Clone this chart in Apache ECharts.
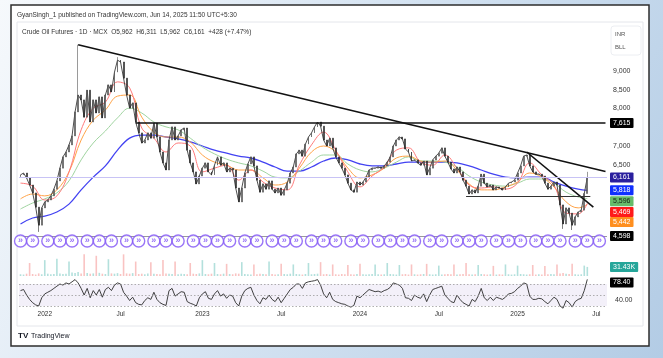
<!DOCTYPE html>
<html><head><meta charset="utf-8">
<script src="https://cdn.jsdelivr.net/npm/echarts@6/dist/echarts.min.js"></script>
<style>html,body{margin:0;padding:0;width:663px;height:358px;overflow:hidden;}#c{width:663px;height:358px;}</style>
</head><body><div id="c"></div>
<script>
// ---------- DATA ----------
const startDate = '2021-11-12';   // first weekly candle (Friday)
const weekCount = 194;            // weekly slots shown incl. empty space on the right
const firstOpen = 6180;
// weekly closes
const closes = [
6230,6280,6150,5960,5750,5370,4890,5350,5510,5560,
5670,5850,6070,6410,6710,6840,7030,7270,7910,8360,
8230,7770,8490,7640,8230,7880,8310,7750,8360,8630,
8440,8970,9290,9240,8810,8360,8010,8150,7640,7350,
7080,7160,7350,7210,7610,7240,6840,6550,6360,7160,
7510,7160,7270,7430,7480,6890,6550,6310,5990,6200,
6410,6550,6310,6230,6490,6710,6490,6550,6310,6410,
6360,5880,5510,5880,6280,6520,6710,6470,6090,5770,
5990,5850,6070,5850,5750,5880,5690,5830,6010,6280,
6440,6790,6890,6730,7050,7240,7350,7510,7640,7530,
7160,7000,7210,6950,6710,6550,6410,6230,6010,5830,
5770,6040,5960,6040,6170,6360,6410,6410,6440,6410,
6470,6570,6710,7000,7160,7240,7190,6920,6840,6600,
6630,6550,6490,6600,6230,6410,6630,6730,6810,6950,
6730,6570,6390,6280,6440,6310,6090,5930,5720,5830,
5750,5930,6250,6010,5910,5960,5830,5910,5880,5830,
5910,6010,6040,6090,6280,6470,6730,6760,6470,6310,
6250,6250,6200,6010,5850,5930,6040,5960,5430,4920,
5350,5210,4890,5110,5240,5290,5733,6161];
const wickHighs = [[19,9700],[32,9370],[187,6311]];
const wickLows  = [[6,4710],[179,4790],[182,4760]];

// moving averages, sampled every 4 weeks (+ last week)
const maStep = 4;
const ma200 = [4920,5080,5130,5240,5450,5830,6170,6470,6890,7210,7290,7290,7240,7190,7110,7000,6890,6810,6730,6680,6570,6440,6330,6330,6440,6600,6680,6630,6520,6470,6470,6520,6570,6570,6570,6570,6550,6470,6360,6250,6170,6150,6170,6170,6040,5930,5850,5818];
const ma100 = [5320,5480,5590,5750,6070,6630,7080,7400,7750,8010,7880,7640,7510,7430,7210,6970,6790,6650,6550,6470,6330,6170,6150,6330,6570,6760,6760,6520,6360,6310,6410,6570,6710,6600,6600,6570,6440,6200,6040,5960,5930,6010,6120,6120,6010,5770,5640,5596];
const ma50  = [5590,5720,5670,5830,6310,7160,7690,7960,8330,8360,7770,7370,7240,7240,7110,6760,6570,6490,6360,6360,6150,5960,6040,6410,6840,7000,6840,6410,6150,6230,6410,6680,6730,6600,6570,6600,6360,5990,5830,5830,5910,6040,6280,6170,5910,5510,5350,5442];
const ma20  = [6010,5930,5560,5670,6310,7430,8010,8170,8710,8550,7480,7210,6840,7080,7000,6310,6410,6490,6090,6360,6040,5880,5830,6490,7030,7370,6890,6310,5910,6200,6440,6890,6950,6570,6490,6760,6410,5960,5880,5910,5850,6010,6550,6230,5960,5210,5190,5469];

// volume (thousands)
const volumeK = [
6,5,8,45,7,5,9,6,55,8, 6,7,60,9,7,8,50,12,10,14, 9,75,10,8,9,70,11,8,7,58,
9,8,10,7,75,9,8,10,50,7, 8,6,9,48,8,7,6,55,9,8, 7,50,6,8,7,6,45,8,7,9,
55,7,6,8,45,7,6,8,42,7, 6,9,8,48,7,6,5,40,6,8, 7,6,50,7,5,6,42,7,6,8,
40,7,6,5,7,45,6,7,8,48, 6,7,5,40,6,5,7,6,38,6, 5,7,42,6,5,6,7,40,6,5,
6,45,7,6,5,38,6,7,5,40, 6,5,6,7,42,6,5,6,36,5, 6,7,6,40,5,6,7,45,6,5,
6,38,7,6,5,6,35,5,6,5, 40,6,5,6,36,7,6,5,6,38, 5,6,5,35,6,7,6,40,9,10,
8,7,42,6,5,6,36,31.43];

// RSI (14)
const rsi = [
58,60,50,42,36,32,30,45,
52,55,58,62,66,70,68,72,70,74,
78,72,62,50,62,45,58,50,60,46,60,64,58,68,72,70,
55,48,40,46,36,33,32,40,45,42,55,42,36,33,31,
58,62,48,52,56,55,38,35,33,30,
45,52,56,44,42,52,58,48,52,44,50,48,
36,30,48,58,62,64,50,40,34,45,42,50,42,38,46,36,44,52,
60,64,70,70,62,72,74,75,76,78,68,
52,45,55,42,38,36,34,33,30,28,31,
48,45,50,55,60,58,56,57,55,58,60,64,72,70,68,62,
45,44,40,50,46,44,52,38,50,60,62,64,66,
50,44,38,36,50,42,36,33,30,42,38,48,
62,45,40,46,40,46,44,42,46,52,53,56,
62,66,72,70,48,42,42,44,43,38,34,40,46,42,
30,26,40,36,28,38,42,44,58,78.4];

const priceTicks = [6500,7000,8000,8500,9000];
const rsiTicks = [40];
const rsiLevels = [70,50,30];
// drawn lines: [startWeek, startPrice, endWeek, endPrice]
const trendLines = [[19,9700,193,6320],[38,7615,193,7615],[167,6840,189,5370]];
const supportLine = [147,5650,188,5650];
const priceLevel4598 = 4598;
const level7615 = 7615;

const publisher = 'GyanSingh_1 published on TradingView.com, Jun 14, 2025 11:50 UTC+5:30';
const legendLine = 'Crude Oil Futures · 1D · MCX  O5,962  H6,311  L5,962  C6,161  +428 (+7.47%)';

// ---------- BUILD ----------
const weeks = [];
{ let t = Date.parse(startDate + 'T00:00:00Z');
  for (let i = 0; i < weekCount; i++) { weeks.push(new Date(t).toISOString().slice(0,10)); t += 7*864e5; } }
const opens = closes.map((c,i) => i === 0 ? firstOpen : closes[i-1]);
const candles = closes.map((c,i) => { const o = opens[i]; return [o, c, Math.min(o,c), Math.max(o,c)]; });
wickHighs.forEach(([i,v]) => candles[i][3] = v);
wickLows.forEach(([i,v]) => candles[i][2] = v);
const maIdx = ma200.map((_,k) => k === ma200.length-1 ? closes.length-1 : k*maStep);
const maData = arr => arr.map((v,k) => [maIdx[k], v]);
const fmt = v => Math.round(v).toLocaleString('en-US');
const icons = [];
weeks.forEach((d,i) => { const day = +d.slice(8,10); if (day >= 10 && day <= 16) icons.push([i, 0]); });
const vol = volumeK.map((v,i) => ({ value: v, itemStyle: { color: closes[i] >= opens[i] ? 'rgba(38,166,154,0.35)' : 'rgba(239,83,80,0.35)' } }));
const isLabelWeek = i => { const d = weeks[i]; const m = +d.slice(5,7), day = +d.slice(8,10); return (m === 1 || m === 7) && day <= 7; };

const FONT = 'Liberation Sans';
const CLEAR = 'rgba(0,0,0,0)';
const boxLabel = (bg, fg, f, dy) => ({ show: true, position: 'end', distance: 3, formatter: f, backgroundColor: bg, color: fg,
  fontSize: 7, fontFamily: FONT, padding: [2,3,1,3], borderRadius: 1, offset: [0, dy || 0] });
const tagLine = (val, bg, fg, f, dy) => ({ silent: true, symbol: ['none','none'], animation: false,
  lineStyle: { color: CLEAR, width: 0 }, label: boxLabel(bg, fg, f, dy), data: [{ yAxis: val }] });

const chart = echarts.init(document.getElementById('c'), null, { width: 663, height: 358 });
const xCommon = gi => ({ type: 'category', gridIndex: gi, data: weeks, boundaryGap: true,
  axisLine: { show: false }, axisTick: { show: false }, axisLabel: { show: false }, splitLine: { show: false } });

const option = {
  animation: false,
  backgroundColor: new echarts.graphic.LinearGradient(0, 0, 1, 1, [{ offset: 0, color: '#f6f9fc' }, { offset: 0.5, color: '#d3e2f1' }, { offset: 1, color: '#b3cce5' }]),
  textStyle: { fontFamily: FONT },
  graphic: [
    { type: 'rect', z: -10, silent: true, shape: { x: 11, y: 5, width: 638, height: 341 }, style: { fill: '#fff', stroke: '#2e2e2e', lineWidth: 1.5 } },
    { type: 'rect', z: -9, silent: true, shape: { x: 17, y: 22, width: 626, height: 304 }, style: { fill: '#fff', stroke: '#e4e6eb', lineWidth: 1 } },
    { type: 'text', z: 10, x: 17, y: 15, style: { text: publisher, fontSize: 6.5, fill: '#333', fontFamily: FONT, verticalAlign: 'middle' } },
    { type: 'text', z: 10, x: 22, y: 32, style: { text: legendLine, fontSize: 6.5, fill: '#333', fontFamily: FONT, verticalAlign: 'middle' } },
    { type: 'rect', z: 10, shape: { x: 611, y: 26, width: 30, height: 29, r: 3 }, style: { fill: '#fff', stroke: '#eceef2', lineWidth: 1 } },
    { type: 'text', z: 11, x: 615, y: 34, style: { text: 'INR', fontSize: 6, fill: '#555', fontFamily: FONT, verticalAlign: 'middle' } },
    { type: 'text', z: 11, x: 615, y: 47, style: { text: 'BLL', fontSize: 6, fill: '#555', fontFamily: FONT, verticalAlign: 'middle' } },
    { type: 'text', z: 10, x: 18, y: 336, style: { text: 'TV', fontSize: 8, fontWeight: 'bold', fill: '#131722', fontFamily: FONT, verticalAlign: 'middle' } },
    { type: 'text', z: 10, x: 31, y: 336, style: { text: 'TradingView', fontSize: 7, fill: '#131722', fontFamily: FONT, verticalAlign: 'middle' } }
  ],
  grid: [
    { left: 19, right: 56, top: 40, height: 208 },
    { left: 19, right: 56, top: 236, height: 10 },
    { left: 19, right: 56, top: 250, height: 26 },
    { left: 19, right: 56, top: 275.75, height: 33 }
  ],
  xAxis: [ xCommon(0), xCommon(1), xCommon(2),
    Object.assign(xCommon(3), { axisLabel: { show: true, interval: (i) => isLabelWeek(i), margin: 2, fontSize: 6.5, color: '#333', fontFamily: FONT,
      formatter: v => (+v.slice(5,7) === 1 ? v.slice(0,4) : 'Jul') } }) ],
  yAxis: [
    { type: 'value', gridIndex: 0, position: 'right', min: 4280, max: 9827, splitLine: { show: false }, axisLine: { show: false }, axisTick: { show: false },
      axisLabel: { show: true, customValues: priceTicks, formatter: v => fmt(v), fontSize: 7, color: '#333', margin: 6, fontFamily: FONT } },
    { type: 'value', gridIndex: 1, min: -1, max: 1, show: false },
    { type: 'value', gridIndex: 2, min: 0, max: 90, show: false },
    { type: 'value', gridIndex: 3, position: 'right', min: 25, max: 85, splitLine: { show: false }, axisLine: { show: false }, axisTick: { show: false },
      axisLabel: { show: true, customValues: rsiTicks, formatter: v => v.toFixed(2), fontSize: 7, color: '#333', margin: 8, fontFamily: FONT } }
  ],
  series: [
    { type: 'line', name: 'MA200', xAxisIndex: 0, yAxisIndex: 0, data: maData(ma200), smooth: 0.4, symbol: 'none', z: 3,
      lineStyle: { color: '#4343f2', width: 1.3 }, markLine: tagLine(ma200[ma200.length-1], '#1030ff', '#fff', p => fmt(p.value), 0) },
    { type: 'line', name: 'MA100', xAxisIndex: 0, yAxisIndex: 0, data: maData(ma100), smooth: 0.4, symbol: 'none', z: 3,
      lineStyle: { color: '#9fd49f', width: 1 }, markLine: tagLine(ma100[ma100.length-1], '#66bb6a', '#142014', p => fmt(p.value), 2.5) },
    { type: 'line', name: 'MA50', xAxisIndex: 0, yAxisIndex: 0, data: maData(ma50), smooth: 0.4, symbol: 'none', z: 3,
      lineStyle: { color: '#ffa347', width: 1 }, markLine: tagLine(ma50[ma50.length-1], '#ff8f1f', '#fff', p => fmt(p.value), 17.5) },
    { type: 'line', name: 'MA20', xAxisIndex: 0, yAxisIndex: 0, data: maData(ma20), smooth: 0.4, symbol: 'none', z: 3,
      lineStyle: { color: '#ff7a7a', width: 1 }, markLine: tagLine(ma20[ma20.length-1], '#ff1a1a', '#fff', p => fmt(p.value), 8.5) },
    { type: 'line', name: 'Close', xAxisIndex: 0, yAxisIndex: 0, data: closes, symbol: 'none', z: 4,
      lineStyle: { color: '#3a3a3a', width: 0.9 } },
    { type: 'candlestick', name: 'Price', xAxisIndex: 0, yAxisIndex: 0, data: candles, barWidth: 1.4, z: 4,
      itemStyle: { color: '#555555', color0: '#2a2a2a', borderColor: '#555555', borderColor0: '#2a2a2a', borderWidth: 0.6 },
      markLine: { silent: true, symbol: ['none','none'], animation: false, z: 5, lineStyle: { type: 'solid' },
        data: [
          ...trendLines.map(t => [{ coord: [t[0], t[1]], lineStyle: { color: '#111', width: 1.6, type: 'solid' }, label: { show: false } }, { coord: [t[2], t[3]] }]),
          [{ coord: [supportLine[0], supportLine[1]], lineStyle: { color: '#333', width: 1.1, type: 'solid' }, label: { show: false } }, { coord: [supportLine[2], supportLine[3]] }],
          { yAxis: closes[closes.length-1], lineStyle: { color: '#c8c3f5', width: 1, type: 'solid' }, label: boxLabel('#2a1f9e', '#fff', p => fmt(p.value)) },
          { yAxis: priceLevel4598, lineStyle: { color: '#9a9a9a', width: 1, type: 'solid' }, label: boxLabel('#000', '#fff', p => fmt(p.value)) },
          { yAxis: level7615, lineStyle: { color: CLEAR, width: 0 }, label: boxLabel('#000', '#fff', p => fmt(p.value)) }
        ] } },
    { type: 'scatter', name: 'Rollover', xAxisIndex: 1, yAxisIndex: 1, data: icons, symbol: 'circle', symbolSize: 12, z: 6,
      itemStyle: { color: '#fff', borderColor: '#8052f5', borderWidth: 1.4 },
      label: { show: true, position: 'inside', formatter: '»', color: '#8052f5', fontSize: 9, fontWeight: 'bold', fontFamily: FONT } },
    { type: 'bar', name: 'Volume', xAxisIndex: 2, yAxisIndex: 2, data: vol, barWidth: 1.6,
      markLine: tagLine(volumeK[volumeK.length-1], '#26a69a', '#fff', p => p.value.toFixed(2) + 'K', 0) },
    { type: 'line', name: 'RSI', xAxisIndex: 3, yAxisIndex: 3, data: rsi, symbol: 'none', lineStyle: { color: '#2b2b2b', width: 0.9 },
      markArea: { silent: true, itemStyle: { color: 'rgba(126,87,194,0.09)' }, data: [[{ yAxis: rsiLevels[0] }, { yAxis: rsiLevels[2] }]] },
      markLine: { silent: true, symbol: ['none','none'], animation: false,
        data: [
          ...rsiLevels.map(v => ({ yAxis: v, lineStyle: { color: '#9a9a9a', width: 0.8, type: [1.5, 2] }, label: { show: false } })),
          { yAxis: rsi[rsi.length-1], lineStyle: { color: CLEAR, width: 0 }, label: boxLabel('#000', '#fff', p => p.value.toFixed(2), 3) }
        ] } }
  ]
};
chart.setOption(option);
</script></body></html>
